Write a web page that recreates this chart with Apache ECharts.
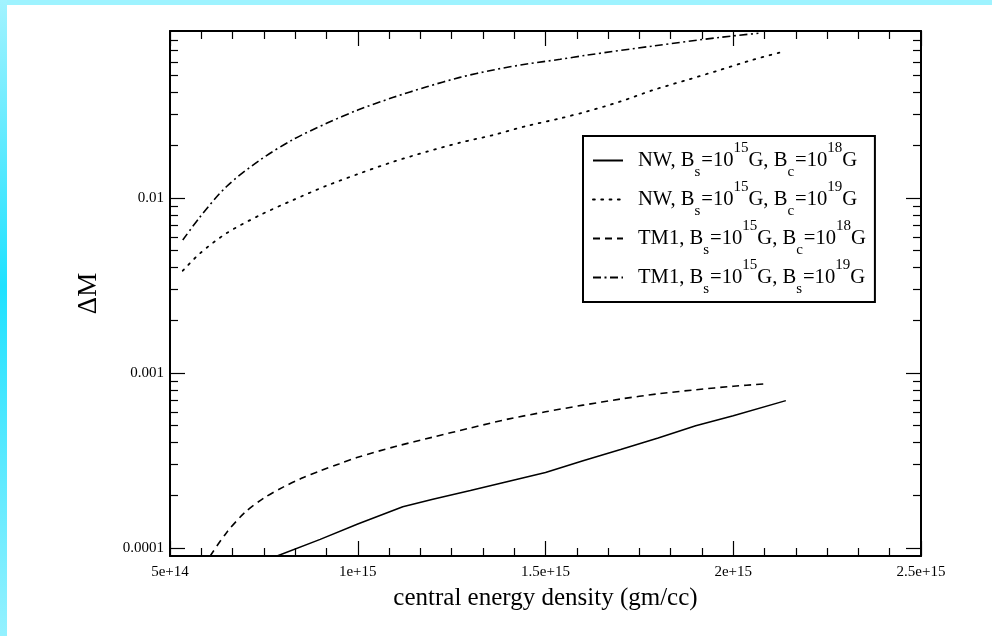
<!DOCTYPE html>
<html>
<head>
<meta charset="utf-8">
<script src="https://cdn.jsdelivr.net/npm/echarts@6/dist/echarts.min.js"></script>
<style>
html,body{margin:0;padding:0;background:#fff;}
#c{width:992px;height:636px;}
</style>
</head>
<body>
<div id="c"></div>
<script>
// ---- data ----
const seriesNames = [
  'NW, Bs=10^15G, Bc=10^18G',
  'NW, Bs=10^15G, Bc=10^19G',
  'TM1, Bs=10^15G, Bc=10^18G',
  'TM1, Bs=10^15G, Bs=10^19G'
];
const legendRich = [
  'NW, B{sub|s}=10{sup|15}G, B{sub|c}=10{sup|18}G',
  'NW, B{sub|s}=10{sup|15}G, B{sub|c}=10{sup|19}G',
  'TM1, B{sub|s}=10{sup|15}G, B{sub|c}=10{sup|18}G',
  'TM1, B{sub|s}=10{sup|15}G, B{sub|s}=10{sup|19}G'
];

// NW, Bc=1e18 (solid)
const xNW18 = [7.85e14, 9.0e14, 1.0e15, 1.12e15, 1.2e15, 1.3e15, 1.4e15, 1.5e15, 1.6e15, 1.7e15, 1.8e15, 1.9e15, 2.0e15, 2.14e15];
const yNW18 = [9.0e-5, 1.12e-4, 1.37e-4, 1.72e-4, 1.9e-4, 2.13e-4, 2.4e-4, 2.7e-4, 3.15e-4, 3.65e-4, 4.25e-4, 5.0e-4, 5.7e-4, 6.95e-4];

// NW, Bc=1e19 (dotted)
const xNW19 = [5.34e14, 5.8e14, 6.5e14, 7.4e14, 8.28e14, 9.17e14, 1.006e15, 1.095e15, 1.184e15, 1.272e15, 1.361e15, 1.45e15, 1.539e15, 1.61e15, 1.698e15, 1.787e15, 1.876e15, 1.965e15, 2.05e15, 2.133e15];
const yNW19 = [3.84e-3, 4.83e-3, 6.28e-3, 7.99e-3, 9.74e-3, 1.175e-2, 1.384e-2, 1.612e-2, 1.839e-2, 2.07e-2, 2.29e-2, 2.58e-2, 2.85e-2, 3.12e-2, 3.55e-2, 4.14e-2, 4.72e-2, 5.39e-2, 6.14e-2, 6.86e-2];

// TM1, Bc=1e18 (dashed)
const xTM18 = [6.07e14, 6.5e14, 7.0e14, 7.5e14, 8.0e14, 8.5e14, 9.0e14, 9.5e14, 1.0e15, 1.1e15, 1.2e15, 1.3e15, 1.4e15, 1.5e15, 1.6e15, 1.7e15, 1.8e15, 1.9e15, 2.0e15, 2.08e15];
const yTM18 = [9.0e-5, 1.22e-4, 1.6e-4, 1.93e-4, 2.22e-4, 2.5e-4, 2.76e-4, 3.02e-4, 3.3e-4, 3.8e-4, 4.3e-4, 4.85e-4, 5.45e-4, 6.0e-4, 6.55e-4, 7.1e-4, 7.6e-4, 8.02e-4, 8.4e-4, 8.65e-4];

// TM1, Bs=1e19 (dash-dot)
const xTM19 = [5.34e14, 5.8e14, 6.5e14, 7.4e14, 8.28e14, 9.17e14, 1.0e15, 1.095e15, 1.184e15, 1.272e15, 1.361e15, 1.45e15, 1.539e15, 1.61e15, 1.787e15, 1.965e15, 2.067e15];
const yTM19 = [5.75e-3, 7.8e-3, 1.16e-2, 1.65e-2, 2.16e-2, 2.67e-2, 3.18e-2, 3.76e-2, 4.32e-2, 4.89e-2, 5.39e-2, 5.83e-2, 6.2e-2, 6.55e-2, 7.39e-2, 8.28e-2, 8.73e-2];

// axes
const xTickValues = [5e14, 1e15, 1.5e15, 2e15, 2.5e15];
const xTickLabels = ['5e+14', '1e+15', '1.5e+15', '2e+15', '2.5e+15'];
const yTickValues = [0.0001, 0.001, 0.01];
const yTickLabels = ['0.0001', '0.001', '0.01'];
const yMinorTicks = [2e-4, 3e-4, 4e-4, 5e-4, 6e-4, 7e-4, 8e-4, 9e-4,
                     2e-3, 3e-3, 4e-3, 5e-3, 6e-3, 7e-3, 8e-3, 9e-3,
                     2e-2, 3e-2, 4e-2, 5e-2, 6e-2, 7e-2, 8e-2];
const xMin = 5e14, xMax = 2.5e15, xStep = 5e14;
const yMin = 9e-5, yMax = 0.09;
const xTitle = 'central energy density (gm/cc)';
const yTitle = '\u0394M';

// ---- chart ----
const FONT = '"Liberation Serif", "Times New Roman", serif';
const pair = (xs, ys) => xs.map((x, i) => [x, ys[i]]);
const lookup = (vals, labels, v) => {
  for (let i = 0; i < vals.length; i++) {
    if (Math.abs(vals[i] - v) <= Math.abs(vals[i]) * 1e-6) return labels[i];
  }
  return '';
};

function yAxisDef(position, major, withLine, withLabel) {
  return {
    type: 'log', logBase: 10, position: position, min: yMin, max: yMax,
    name: withLabel ? yTitle : '', nameLocation: 'middle', nameGap: 68,
    nameTextStyle: { fontFamily: FONT, fontSize: 27, color: '#000' },
    axisLine: { show: withLine, lineStyle: { color: '#000', width: 2 } },
    axisTick: { show: true, inside: true, length: major ? 15 : 8,
      customValues: major ? yTickValues : yMinorTicks,
      lineStyle: { color: '#000', width: 1.2 } },
    minorTick: { show: false },
    axisLabel: { show: withLabel, customValues: yTickValues, margin: 6,
      fontFamily: FONT, fontSize: 15, color: '#000',
      formatter: v => lookup(yTickValues, yTickLabels, v) },
    splitLine: { show: false }
  };
}

function xAxisDef(position, withLabel) {
  return {
    type: 'value', position: position, min: xMin, max: xMax, interval: xStep,
    name: withLabel ? xTitle : '', nameLocation: 'middle', nameGap: 30,
    nameTextStyle: { fontFamily: FONT, fontSize: 25, color: '#000' },
    axisLine: { show: true, onZero: false, lineStyle: { color: '#000', width: 2 } },
    axisTick: { show: true, inside: true, length: 15, lineStyle: { color: '#000', width: 1.2 } },
    minorTick: { show: true, splitNumber: 6, length: 8, lineStyle: { color: '#000', width: 1.2 } },
    axisLabel: { show: withLabel, margin: 9, fontFamily: FONT, fontSize: 15, color: '#000',
      formatter: v => lookup(xTickValues, xTickLabels, v) },
    splitLine: { show: false }, minorSplitLine: { show: false }
  };
}

const styles = [
  { type: 'solid', width: 1.5 },
  { type: [1.8, 6.5], width: 1.8, cap: 'round' },
  { type: [7, 5], width: 1.6 },
  { type: [8, 3.5, 2, 3.5], width: 1.6 }
];
const smooths = [false, 0.3, 0.3, 0.3];
const datas = [pair(xNW18, yNW18), pair(xNW19, yNW19), pair(xTM18, yTM18), pair(xTM19, yTM19)];

const chart = echarts.init(document.getElementById('c'), null, { renderer: 'canvas' });
chart.setOption({
  backgroundColor: '#fff',
  animation: false,
  graphic: [
    { type: 'rect', left: 0, top: 0, silent: true, z: 100,
      shape: { width: 992, height: 5 }, style: { fill: '#9ef3ff' } },
    { type: 'rect', left: 0, top: 0, silent: true, z: 100,
      shape: { width: 7, height: 636 },
      style: { fill: { type: 'linear', x: 0, y: 0, x2: 0, y2: 1, colorStops: [
        { offset: 0, color: '#a2f3ff' }, { offset: 0.45, color: '#1fe1ff' }, { offset: 1, color: '#94f1ff' }] } } }
  ],
  grid: { left: 170, right: 71, top: 31, bottom: 80, containLabel: false },
  xAxis: [xAxisDef('bottom', true), xAxisDef('top', false)],
  yAxis: [
    yAxisDef('left', true, true, true),
    yAxisDef('left', false, false, false),
    yAxisDef('right', true, true, false),
    yAxisDef('right', false, false, false)
  ],
  legend: {
    orient: 'vertical', left: 583, top: 136,
    backgroundColor: '#fff', borderColor: '#000', borderWidth: 2, borderRadius: 0,
    padding: [5, 9, 5, 9], itemGap: 0, itemWidth: 30, itemHeight: 14,
    selectedMode: false,
    data: seriesNames,
    itemStyle: { color: 'rgba(0,0,0,0)', borderColor: 'rgba(0,0,0,0)', borderWidth: 0, opacity: 0 },
    formatter: name => legendRich[seriesNames.indexOf(name)],
    textStyle: {
      fontFamily: FONT, fontSize: 20.6, color: '#000', lineHeight: 39, padding: [0, 0, 0, 10],
      rich: {
        sup: { fontFamily: FONT, fontSize: 15, color: '#000', lineHeight: 24, verticalAlign: 'top' },
        sub: { fontFamily: FONT, fontSize: 15, color: '#000', lineHeight: 14, verticalAlign: 'bottom', padding: [0, 1, 0, 0] }
      }
    }
  },
  series: seriesNames.map((n, i) => ({
    name: n, type: 'line', data: datas[i], xAxisIndex: 0, yAxisIndex: 0,
    showSymbol: false, symbol: 'none', smooth: smooths[i], clip: true,
    lineStyle: Object.assign({ color: '#000' }, styles[i]),
    itemStyle: { color: '#000' }
  }))
});
</script>
</body>
</html>
